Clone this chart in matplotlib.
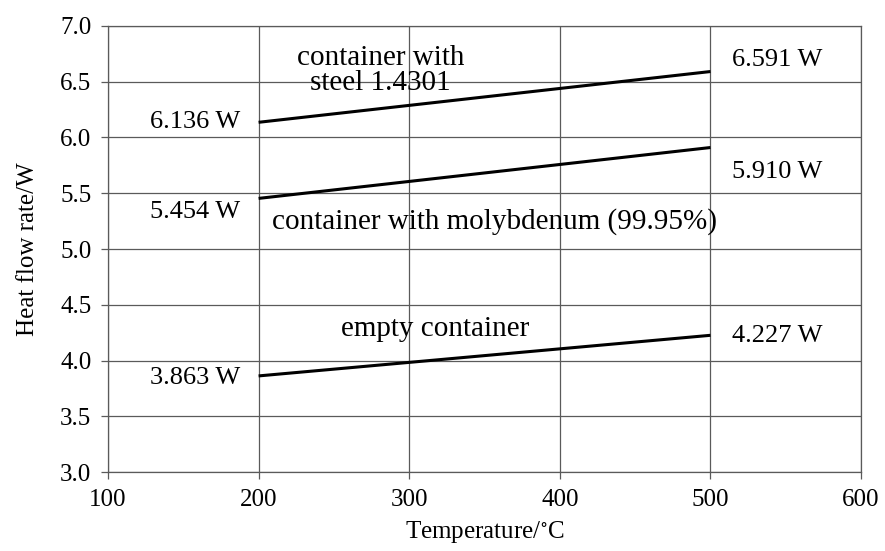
import matplotlib
matplotlib.use("Agg")
import matplotlib.pyplot as plt

plt.rcParams['font.family'] = ['Liberation Serif', 'DejaVu Serif']
plt.rcParams['mathtext.fontset'] = 'stix'

# temperatures of the two measuring points
temps = [200, 500]
steel = [6.136, 6.591]
molybdenum = [5.454, 5.910]
empty = [3.863, 4.227]

start_labels = ["6.136 W", "5.454 W", "3.863 W"]
end_labels = ["6.591 W", "5.910 W", "4.227 W"]

xticks = [100, 200, 300, 400, 500, 600]
yticks = [3.0, 3.5, 4.0, 4.5, 5.0, 5.5, 6.0, 6.5, 7.0]

fig = plt.figure(figsize=(8.85, 5.51), dpi=100)
ax = fig.add_axes([0.122, 0.143, 0.851, 0.810])

for series in [steel, molybdenum, empty]:
    ax.plot(temps, series, color="black", lw=2.2, solid_capstyle="butt", zorder=3)

fs = 18     # axes text
fs_val = 19 # value labels
fs_name = 21 # curve names

# labels at the line ends
start_y = [steel[0], molybdenum[0] - 0.12, empty[0] - 0.02]
end_y = [steel[1] + 0.1, molybdenum[1] - 0.22, empty[1] - 0.01]
for lab, y in zip(start_labels, start_y):
    ax.text(188, y, lab, ha="right", va="center", fontsize=fs_val)
for lab, y in zip(end_labels, end_y):
    ax.text(514, y, lab, ha="left", va="center", fontsize=fs_val)

# curve names
ax.text(281, 6.6, "container with\nsteel 1.4301", ha="center", va="center",
        fontsize=fs_name, linespacing=0.95)
ax.text(209, 5.25, "container with molybdenum (99.95%)", ha="left", va="center",
        fontsize=fs_name)
ax.text(317, 4.28, "empty container", ha="center", va="center", fontsize=fs_name)

ax.set_xlim(100, 600)
ax.set_ylim(3.0, 7.0)
ax.set_xticks(xticks)
ax.set_yticks(yticks)
ax.set_yticklabels([f"{v:.1f}" for v in yticks])
ax.grid(True, color="#5a5a5a", lw=0.9)
ax.set_axisbelow(True)
for s in ax.spines.values():
    s.set_color("#5a5a5a")
    s.set_linewidth(0.9)
ax.tick_params(labelsize=fs, length=5, width=0.9, color="#5a5a5a")
ax.tick_params(axis="x", pad=7)
ax.tick_params(axis="y", pad=7)

ax.set_xlabel(r"Temperature/$^{\circ}$C", fontsize=fs, labelpad=6)
ax.set_ylabel("Heat flow rate/W", fontsize=fs, labelpad=15)

fig.savefig("out.png", dpi=100)
